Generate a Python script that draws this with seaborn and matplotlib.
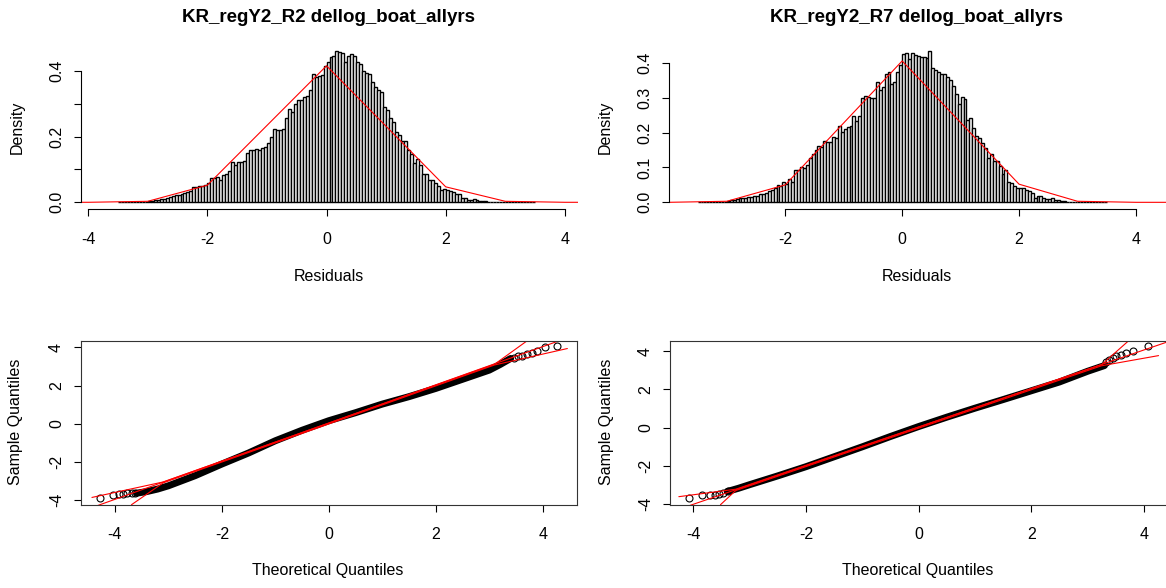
import numpy as np
import pandas as pd
import matplotlib
matplotlib.use('Agg')
import matplotlib.pyplot as plt
import seaborn as sns

# ---- data ----
# hist() breaks: -3.5 .. 3.5 by 0.05 (140 bins)
breaks = np.linspace(-3.5, 3.5, 141)

dens_r2 = [
    0, 0, 0, 0, 0, 0, 0, 0, 0, 0.001,
    0.003, 0.004, 0.006, 0.008, 0.010, 0.011, 0.013, 0.016, 0.018, 0.021,
    0.022, 0.026, 0.027, 0.030, 0.034, 0.045, 0.046, 0.049, 0.050, 0.053,
    0.058, 0.075, 0.075, 0.076, 0.069, 0.083, 0.086, 0.095, 0.123, 0.113,
    0.121, 0.123, 0.125, 0.150, 0.158, 0.160, 0.162, 0.158, 0.165, 0.168,
    0.180, 0.200, 0.223, 0.219, 0.219, 0.223, 0.257, 0.285, 0.275, 0.300,
    0.310, 0.311, 0.320, 0.322, 0.342, 0.390, 0.380, 0.385, 0.386, 0.413,
    0.427, 0.443, 0.445, 0.460, 0.457, 0.455, 0.427, 0.445, 0.452, 0.445,
    0.427, 0.419, 0.400, 0.393, 0.389, 0.366, 0.352, 0.340, 0.334, 0.290,
    0.280, 0.255, 0.245, 0.215, 0.204, 0.186, 0.186, 0.160, 0.148, 0.120,
    0.132, 0.113, 0.087, 0.085, 0.069, 0.067, 0.059, 0.049, 0.038, 0.040,
    0.036, 0.033, 0.030, 0.026, 0.024, 0.014, 0.012, 0.008, 0.006, 0.010,
    0.006, 0.005, 0.004, 0.003, 0.002, 0.002, 0.001, 0.001, 0, 0,
    0, 0, 0, 0, 0, 0, 0, 0, 0, 0,
]

dens_r7 = [
    0, 0, 0, 0, 0, 0, 0, 0, 0, 0,
    0.003, 0.006, 0.008, 0.010, 0.011, 0.011, 0.012, 0.014, 0.016, 0.017,
    0.019, 0.023, 0.025, 0.028, 0.032, 0.036, 0.041, 0.050, 0.048, 0.057,
    0.053, 0.067, 0.059, 0.092, 0.092, 0.101, 0.097, 0.107, 0.126, 0.139,
    0.150, 0.162, 0.159, 0.176, 0.174, 0.174, 0.187, 0.185, 0.220, 0.202,
    0.210, 0.216, 0.218, 0.246, 0.233, 0.246, 0.298, 0.306, 0.302, 0.300,
    0.300, 0.346, 0.323, 0.329, 0.369, 0.372, 0.338, 0.344, 0.374, 0.394,
    0.424, 0.428, 0.411, 0.428, 0.422, 0.418, 0.416, 0.415, 0.414, 0.434,
    0.386, 0.380, 0.374, 0.369, 0.367, 0.358, 0.350, 0.332, 0.311, 0.281,
    0.302, 0.296, 0.237, 0.243, 0.214, 0.189, 0.183, 0.170, 0.157, 0.128,
    0.138, 0.118, 0.118, 0.103, 0.082, 0.094, 0.057, 0.055, 0.048, 0.040,
    0.042, 0.042, 0.034, 0.031, 0.027, 0.013, 0.017, 0.017, 0.011, 0.010,
    0.010, 0.013, 0.008, 0.006, 0.004, 0.003, 0.002, 0.001, 0, 0,
    0, 0, 0, 0, 0, 0, 0, 0, 0, 0,
]

# red normal curve drawn over the histograms
red_x = [-5, -4, -3, -2, 0, 2, 3, 4, 5]
red_r2 = [0, 0, 0.003, 0.052, 0.415, 0.047, 0.003, 0, 0]
red_r7 = [0, 0, 0.003, 0.050, 0.405, 0.052, 0.003, 0, 0]

# qq plots: dense band of points (theoretical, sample)
band_r2_x = [-3.6, -3.4, -3.2, -3.0, -2.5, -2.0, -1.5, -1.0, -0.5, 0.0, 0.5, 1.0, 1.5, 2.0, 2.5, 3.0, 3.2, 3.4]
band_r2_y = [-3.64, -3.55, -3.42, -3.25, -2.72, -2.11, -1.53, -0.89, -0.34, 0.16, 0.58, 1.03, 1.42, 1.85, 2.33, 2.81, 3.1, 3.42]
tail_r2_x = [-4.28, -4.03, -3.92, -3.84, -3.77, -3.69, -3.62, 3.47, 3.54, 3.61, 3.71, 3.80, 3.89, 4.04, 4.27]
tail_r2_y = [-3.89, -3.75, -3.70, -3.68, -3.65, -3.63, -3.64, 3.47, 3.54, 3.56, 3.65, 3.68, 3.79, 4.03, 4.05]

band_r7_x = [-3.4, -3.2, -3.0, -2.5, -2.0, -1.5, -1.0, -0.5, 0.0, 0.5, 1.0, 1.5, 2.0, 2.5, 3.0, 3.3]
band_r7_y = [-3.34, -3.17, -2.98, -2.52, -2.04, -1.52, -1.0, -0.46, 0.06, 0.55, 1.02, 1.47, 1.93, 2.39, 2.95, 3.25]
tail_r7_x = [-4.08, -3.84, -3.71, -3.61, -3.55, -3.47, -3.39, 3.32, 3.38, 3.45, 3.51, 3.59, 3.69, 3.81, 4.08]
tail_r7_y = [-3.68, -3.54, -3.54, -3.51, -3.47, -3.40, -3.33, 3.46, 3.54, 3.65, 3.73, 3.82, 3.93, 4.00, 4.26]

# red reference line and the two envelope lines
qqline_r2_x, qqline_r2_y = [-4.7, 4.7], [-4.66, 4.74]
upper_r2_x, upper_r2_y = [-4.43, -3.1, 3.1, 3.71], [-3.86, -3.05, 3.12, 4.35]
lower_r2_x, lower_r2_y = [-3.69, -3.1, 3.1, 4.46], [-4.24, -3.10, 3.08, 3.94]

qqline_r7_x, qqline_r7_y = [-4.6, 4.6], [-4.61, 4.67]
upper_r7_x, upper_r7_y = [-4.26, -3.25, 3.25, 3.73], [-3.61, -3.22, 3.30, 4.55]
lower_r7_x, lower_r7_y = [-3.52, -3.25, 3.25, 4.26], [-4.03, -3.29, 3.24, 3.77]

titles = ['KR_regY2_R2 dellog_boat_allyrs', 'KR_regY2_R7 dellog_boat_allyrs']

# ---- figure ----
sns.set_theme(style='white')
plt.rcParams['font.family'] = ['Liberation Sans', 'DejaVu Sans']
plt.rcParams['axes.unicode_minus'] = False
plt.rcParams['text.color'] = 'black'

W, H = 1166, 588
fig = plt.figure(figsize=(W / 100, H / 100), dpi=100)
fig.patch.set_facecolor('white')


def px_axes(l, t, r, b):
    return fig.add_axes([l / W, 1 - b / H, (r - l) / W, (b - t) / H])


def style_ticks(ax):
    ax.tick_params(axis='both', direction='out', length=5, width=0.8, color='black',
                   labelsize=11.5, labelcolor='black', bottom=True, left=True)
    ax.tick_params(axis='x', pad=11)
    ax.tick_params(axis='y', pad=7, labelrotation=90)
    plt.setp(ax.get_yticklabels(), va='center')


def draw_hist(ax, dens, red_y, xlim, ylim, xticks, ylabels):
    df = pd.DataFrame({'mid': breaks[:-1] + 0.025, 'dens': dens})
    sns.histplot(data=df, x='mid', weights='dens', binwidth=0.05, binrange=(-3.5, 3.5),
                 stat='count', color='white', edgecolor='black', linewidth=1.0,
                 alpha=1, ax=ax)
    sns.lineplot(x=red_x, y=red_y, color='red', linewidth=0.8, sort=False,
                 estimator=None, ax=ax)
    ax.set_xlim(*xlim)
    ax.set_ylim(*ylim)
    ax.set_xlabel('')
    ax.set_ylabel('')
    ax.set_xticks(xticks)
    ax.set_yticks([0, 0.1, 0.2, 0.3, 0.4])
    ax.set_yticklabels(ylabels)
    for s in ('top', 'right'):
        ax.spines[s].set_visible(False)
    for s in ('left', 'bottom'):
        ax.spines[s].set_color('black')
        ax.spines[s].set_linewidth(0.8)
    ax.spines['left'].set_bounds(0, 0.4)
    ax.spines['bottom'].set_bounds(xticks[0], xticks[-1])
    style_ticks(ax)


def draw_qq(ax, bx, by, tx, ty, lines, xlim, ylim):
    sns.lineplot(x=bx, y=by, color='black', linewidth=5, sort=False, estimator=None,
                 ax=ax, solid_capstyle='round')
    ax.plot(tx, ty, 'o', mfc='none', mec='black', ms=5, mew=0.8)
    for xs, ys in lines:
        sns.lineplot(x=xs, y=ys, color='red', linewidth=0.8, sort=False,
                     estimator=None, ax=ax)
    ax.set_xlim(*xlim)
    ax.set_ylim(*ylim)
    ax.set_xticks([-4, -2, 0, 2, 4])
    ax.set_yticks([-4, -2, 0, 2, 4])
    for s in ax.spines.values():
        s.set_visible(True)
        s.set_color('#333333')
        s.set_linewidth(0.8)
    style_ticks(ax)


# top row: histograms
ax1 = px_axes(81, 44.4, 578, 209.3)
draw_hist(ax1, dens_r2, red_r2, (-4.12, 4.22), (-0.0213, 0.48), [-4, -2, 0, 2, 4],
          ['0.0', '', '0.2', '', '0.4'])
ax2 = px_axes(669, 45.25, 1166, 209.3)
draw_hist(ax2, dens_r7, red_r7, (-3.99, 4.515), (-0.02, 0.45), [-2, 0, 2, 4],
          ['0.0', '0.1', '0.2', '0.3', '0.4'])

# bottom row: normal qq plots
ax3 = px_axes(80.7, 340.7, 577, 504.7)
draw_qq(ax3, band_r2_x, band_r2_y, tail_r2_x, tail_r2_y,
        [(qqline_r2_x, qqline_r2_y), (upper_r2_x, upper_r2_y), (lower_r2_x, lower_r2_y)],
        (-4.64, 4.64), (-4.24, 4.35))
ax4 = px_axes(669.6, 340.7, 1167.5, 504.7)
draw_qq(ax4, band_r7_x, band_r7_y, tail_r7_x, tail_r7_y,
        [(qqline_r7_x, qqline_r7_y), (upper_r7_x, upper_r7_y), (lower_r7_x, lower_r7_y)],
        (-4.424, 4.419), (-4.03, 4.55))


def ftext(x, y, s, **kw):
    fig.text(x / W, 1 - y / H, s, ha='center', va='center', color='black', **kw)


ftext(329, 18, titles[0], fontsize=13.5, fontweight='bold')
ftext(917, 18, titles[1], fontsize=13.5, fontweight='bold')
ftext(329, 276, 'Residuals', fontsize=11.5)
ftext(917, 276, 'Residuals', fontsize=11.5)
ftext(17, 127, 'Density', fontsize=11.5, rotation=90)
ftext(605, 127, 'Density', fontsize=11.5, rotation=90)
ftext(328, 571, 'Theoretical Quantiles', fontsize=11.5)
ftext(918, 571, 'Theoretical Quantiles', fontsize=11.5)
ftext(16, 422, 'Sample Quantiles', fontsize=11.5, rotation=90)
ftext(606, 422, 'Sample Quantiles', fontsize=11.5, rotation=90)

fig.savefig('out.png', dpi=100, facecolor='white')
